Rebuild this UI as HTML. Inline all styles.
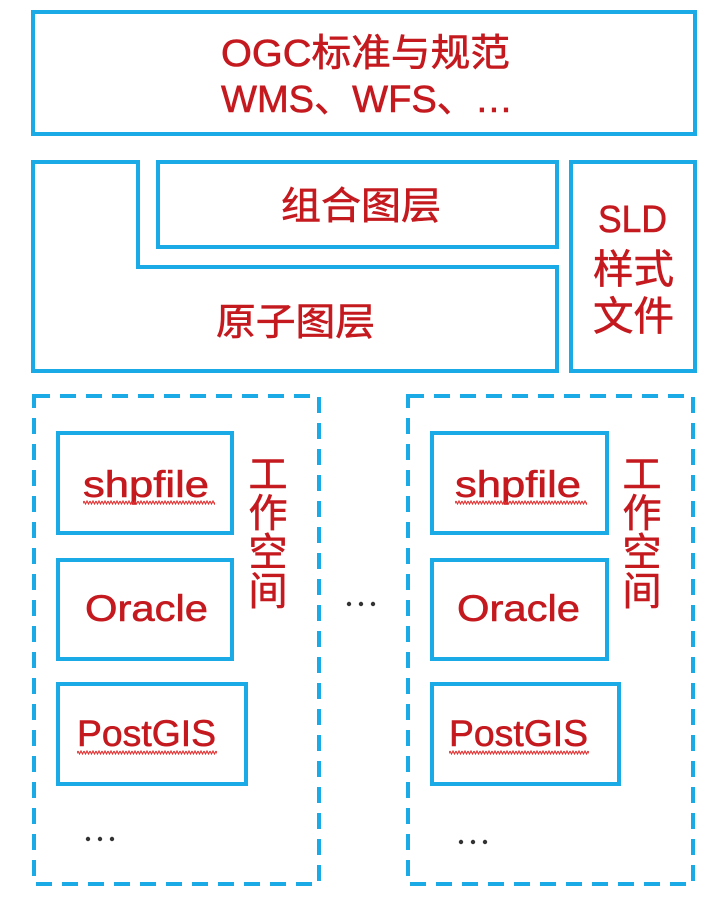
<!DOCTYPE html>
<html><head><meta charset="utf-8"><style>
html,body{margin:0;padding:0;background:#fff;}
svg{display:block;}
text{font-family:"Liberation Sans","Noto Sans CJK SC",sans-serif;fill:#c41a1f;stroke:#c41a1f;stroke-width:0.6;}
</style></head><body>
<svg width="720" height="897" viewBox="0 0 720 897" xmlns="http://www.w3.org/2000/svg">
<defs>
<pattern id="wv" width="6" height="5" patternUnits="userSpaceOnUse">
<path d="M0 1 L1.5 4 L3 1 L4.5 4 L6 1" stroke="#e03030" stroke-width="1.1" fill="none"/>
</pattern>
</defs>
<g fill="none" stroke="#1aabe6" stroke-width="4">
<rect x="33" y="12" width="662" height="122"/>
<path d="M33 162 H138 V267 H557 V371 H33 Z"/>
<rect x="158" y="162" width="399" height="85"/>
<rect x="571" y="162" width="124" height="209"/>
<rect x="58" y="433" width="174" height="100"/>
<rect x="58" y="560" width="174" height="99"/>
<rect x="58" y="684" width="188" height="100"/>
<rect x="432" y="433" width="175" height="100"/>
<rect x="432" y="560" width="175" height="99"/>
<rect x="432" y="684" width="187" height="100"/>
</g>
<g fill="none" stroke="#1aabe6" stroke-width="4" stroke-dasharray="16 10">
<rect x="34" y="396" width="285" height="488"/>
<rect x="408" y="396" width="285" height="488"/>
</g>
<text x="221" y="66" font-size="38" textLength="289" lengthAdjust="spacingAndGlyphs">OGC标准与规范</text>
<text x="221" y="112" font-size="38" textLength="292" lengthAdjust="spacingAndGlyphs">WMS、WFS、…</text>
<text x="281" y="219" font-size="38" textLength="160" lengthAdjust="spacingAndGlyphs">组合图层</text>
<text x="216" y="335" font-size="38" textLength="159" lengthAdjust="spacingAndGlyphs">原子图层</text>
<text x="598" y="232" font-size="38" textLength="69" lengthAdjust="spacingAndGlyphs">SLD</text>
<text x="593" y="283" font-size="40" textLength="81" lengthAdjust="spacingAndGlyphs">样式</text>
<text x="593" y="330" font-size="40" textLength="81" lengthAdjust="spacingAndGlyphs">文件</text>
<g font-size="37">
<text x="83" y="497" textLength="126" lengthAdjust="spacingAndGlyphs">shpfile</text>
<text x="85" y="621" textLength="123" lengthAdjust="spacingAndGlyphs">Oracle</text>
<text x="77" y="746" textLength="139" lengthAdjust="spacingAndGlyphs">PostGIS</text>
<text x="455" y="497" textLength="126" lengthAdjust="spacingAndGlyphs">shpfile</text>
<text x="457" y="621" textLength="123" lengthAdjust="spacingAndGlyphs">Oracle</text>
<text x="449" y="746" textLength="139" lengthAdjust="spacingAndGlyphs">PostGIS</text>
</g>
<rect x="83" y="500" width="132" height="5" fill="url(#wv)"/>
<rect x="77" y="750" width="140" height="5" fill="url(#wv)"/>
<rect x="455" y="500" width="132" height="5" fill="url(#wv)"/>
<rect x="449" y="750" width="140" height="5" fill="url(#wv)"/>
<g font-size="39" text-anchor="middle">
<text x="268" y="488">工</text><text x="268" y="527">作</text><text x="268" y="566">空</text><text x="268" y="605">间</text>
<text x="642" y="488">工</text><text x="642" y="527">作</text><text x="642" y="566">空</text><text x="642" y="605">间</text>
</g>
<g fill="#333">
<circle cx="88" cy="839" r="2.2"/><circle cx="100" cy="839" r="2.2"/><circle cx="112" cy="839" r="2.2"/>
<circle cx="461" cy="842" r="2.2"/><circle cx="473" cy="842" r="2.2"/><circle cx="485" cy="842" r="2.2"/>
<circle cx="349" cy="604" r="2.2"/><circle cx="361" cy="604" r="2.2"/><circle cx="373" cy="604" r="2.2"/>
</g>
</svg>
</body></html>
